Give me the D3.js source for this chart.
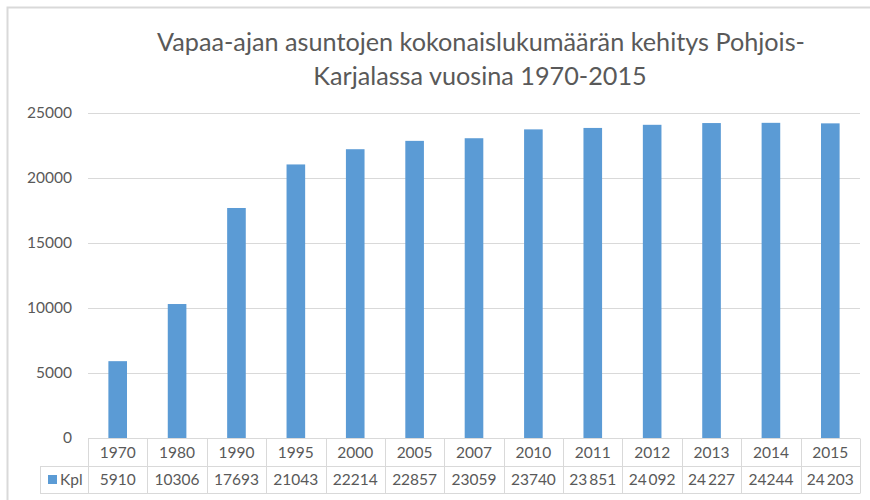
<!DOCTYPE html>
<html><head><meta charset="utf-8">
<script src="https://cdn.jsdelivr.net/npm/d3@7"></script>
<style>body{margin:0;background:#fff;}svg{display:block;}text{font-family:Lato,"Open Sans",sans-serif;fill:#595959;}</style>
</head><body>
<script>
const years = ["1970","1980","1990","1995","2000","2005","2007","2010","2011","2012","2013","2014","2015"];
const values = [5910,10306,17693,21043,22214,22857,23059,23740,23851,24092,24227,24244,24203];
const valueLabels = ["5910","10306","17693","21043","22214","22857","23059","23740","23\u2009851","24\u2009092","24\u2009227","24244","24\u2009203"];
const yTicks = [0,5000,10000,15000,20000,25000];
const seriesName = "Kpl";
const titleLines = ["Vapaa-ajan asuntojen kokonaislukumäärän kehitys Pohjois-","Karjalassa vuosina 1970-2015"];

const W=870,H=500;
const svg=d3.select("body").append("svg").attr("width",W).attr("height",H);
// outer chart border
svg.append("rect").attr("x",7.5).attr("y",7.5).attr("width",900).attr("height",600)
  .attr("fill","none").attr("stroke","#D9D9D9").attr("stroke-width",2);

const x=d3.scaleBand().domain(years).range([88,860]).paddingInner(0).paddingOuter(0);
const y=d3.scaleLinear().domain([0,25000]).range([438,113]);
const barW=x.bandwidth()/3.19;

// gridlines
svg.append("g").selectAll("line").data(yTicks.filter(d=>d>0)).join("line")
  .attr("x1",88).attr("x2",860).attr("y1",d=>Math.round(y(d))+0.5).attr("y2",d=>Math.round(y(d))+0.5)
  .attr("stroke","#D9D9D9").attr("stroke-width",1);
// y tick labels
svg.append("g").selectAll("text").data(yTicks).join("text")
  .attr("x",72).attr("y",d=>y(d)).attr("dy","0.35em").attr("text-anchor","end")
  .style("font-size","15.5px").text(d=>d);

// bars
svg.append("g").selectAll("rect").data(values).join("rect")
  .attr("x",(d,i)=>x(years[i])+x.bandwidth()/2-barW/2).attr("width",barW)
  .attr("y",d=>y(d)).attr("height",d=>y(0)-y(d)).attr("fill","#5B9BD5");

// data table
const tb=svg.append("g").attr("stroke","#D9D9D9").attr("stroke-width",1).attr("fill","none");
const r0=438.5,r1=466.5,r2=493.5;
tb.append("line").attr("x1",88).attr("x2",860).attr("y1",r0).attr("y2",r0);
tb.append("line").attr("x1",40).attr("x2",860).attr("y1",r1).attr("y2",r1);
tb.append("line").attr("x1",40).attr("x2",860).attr("y1",r2).attr("y2",r2);
tb.append("line").attr("x1",40.5).attr("x2",40.5).attr("y1",r1).attr("y2",r2);
tb.selectAll("line.v").data(years.concat(["end"])).join("line").attr("class","v")
  .attr("x1",(d,i)=>Math.round(88+i*x.bandwidth())+0.5).attr("x2",(d,i)=>Math.round(88+i*x.bandwidth())+0.5)
  .attr("y1",r0).attr("y2",r2);

svg.append("g").selectAll("text").data(years).join("text")
  .attr("x",d=>x(d)+x.bandwidth()/2).attr("y",(r0+r1)/2).attr("dy","0.35em")
  .attr("text-anchor","middle").style("font-size","15.5px").text(d=>d);
svg.append("g").selectAll("text").data(valueLabels).join("text")
  .attr("x",(d,i)=>x(years[i])+x.bandwidth()/2).attr("y",(r1+r2)/2).attr("dy","0.35em")
  .attr("text-anchor","middle").style("font-size","15.5px").text(d=>d);
// legend key in table
svg.append("rect").attr("x",48).attr("y",475).attr("width",9).attr("height",9).attr("fill","#5B9BD5");
svg.append("text").attr("x",60).attr("y",(r1+r2)/2).attr("dy","0.35em").style("font-size","15.5px").text(seriesName);

// title
const t1=svg.append("text").attr("x",481).attr("y",50.5).attr("text-anchor","middle").style("font-size","23px").text(titleLines[0]);
const t2=svg.append("text").attr("x",480).attr("y",85).attr("text-anchor","middle").style("font-size","23px").text(titleLines[1]);
const w=t1.node().getComputedTextLength();
const fs=23*648/w;
t1.style("font-size",fs+"px"); t2.style("font-size",fs+"px");
</script>
</body></html>
